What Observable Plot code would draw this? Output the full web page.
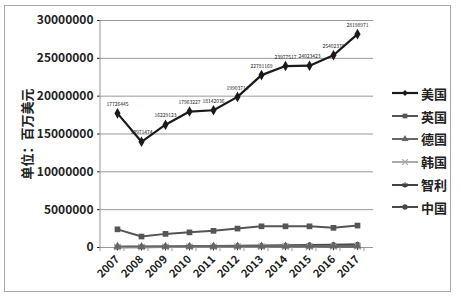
<!DOCTYPE html>
<html><head><meta charset="utf-8">
<script src="https://cdn.jsdelivr.net/npm/d3@7"></script>
<script src="https://cdn.jsdelivr.net/npm/@observablehq/plot@0.6"></script>
<style>
body{margin:0;background:#fff;}
#wrap{position:relative;width:461px;height:297px;font-family:"Noto Sans CJK SC",sans-serif;}
#frame{position:absolute;left:4px;top:5px;width:445px;height:285px;border:1px solid #aaa;}
#chart{position:absolute;left:0;top:0;}
#legend{position:absolute;left:391px;top:82px;}
.li{display:flex;align-items:center;height:22.8px;font-size:13px;font-weight:bold;color:#222;}
.li svg{margin-right:2px;}
</style></head><body>
<div id="wrap"><div id="frame"></div><div id="chart"></div><div id="legend"></div></div>
<script>
const years = ["2007","2008","2009","2010","2011","2012","2013","2014","2015","2016","2017"];
const seriesNames = ["美国","英国","德国","韩国","智利","中国"];
const usa     = [17726445,13971474,16229123,17963227,18142036,19903714,22781169,23977517,24023423,25402370,28198971];
const uk      = [2400000,1450000,1800000,2000000,2200000,2500000,2800000,2800000,2800000,2600000,2900000];
const germany = [130000,120000,130000,140000,150000,160000,170000,180000,190000,200000,210000];
const korea   = [60000,60000,70000,80000,90000,100000,110000,120000,130000,150000,170000];
const chile   = [40000,40000,50000,60000,70000,80000,80000,90000,90000,100000,110000];
const china   = [80000,110000,140000,170000,200000,230000,260000,300000,340000,380000,420000];
const labels  = ["17726445","13971474","16229123","17963227","18142036","19903714","22781169","23977517","24023423","25402370","28198971"];
const yTicks  = [0,5000000,10000000,15000000,20000000,25000000,30000000];

const values = [usa,uk,germany,korea,chile,china];
const styles = [
  {color:"#1a1a1a", symbol:"diamond", fill:true, r:3.2, w:2.2},
  {color:"#555", symbol:"square", fill:true, r:3.2, w:2},
  {color:"#666", symbol:"triangle", fill:true, r:3, w:2},
  {color:"#aaa", symbol:"times", fill:false, r:3, w:2},
  {color:"#444", symbol:"asterisk", fill:false, r:3.2, w:2},
  {color:"#4a4a4a", symbol:"circle", fill:true, r:2.6, w:2}
];
const data = [];
seriesNames.forEach((s,i)=>years.forEach((y,j)=>data.push({series:s, year:y, value:values[i][j], idx:i})));

const marks = [
  Plot.gridY(yTicks, {stroke:"#999", strokeOpacity:1, strokeWidth:1}),
  Plot.axisY({ticks: yTicks, tickFormat: d3.format("d"), tickSize:3, tickPadding:4, fontSize:12, fontWeight:"bold", fill:"#222",
    label:"单位：百万美元", labelAnchor:"center", labelOffset:78, labelArrow:false}),
  Plot.axisX({tickSize:0, tickRotate:-45, fontSize:11, fontWeight:"bold", tickPadding:10, label:null, fill:"#222"}),
  Plot.ruleY([0], {stroke:"#999"})
];
for (let i = seriesNames.length-1; i >= 0; i--) {
  const st = styles[i];
  const d = data.filter(r=>r.idx===i);
  marks.push(Plot.line(d, {x:"year", y:"value", stroke:st.color, strokeWidth:st.w}));
  marks.push(Plot.dot(d, {x:"year", y:"value", symbol:()=>st.symbol, r:st.r,
    fill: st.fill ? st.color : "none", stroke: st.color, strokeWidth: st.fill ? 0 : 1.3}));
}
marks.push(Plot.text(data.filter(r=>r.idx===0), {x:"year", y:"value", text:(d,i)=>labels[i], dy:-9, fontSize:5, fill:"#222"}));

const plot = Plot.plot({
  width:461, height:297,
  marginLeft:100, marginRight:88, marginTop:20, marginBottom:50,
  style:{fontFamily:"'Noto Sans CJK SC', sans-serif", color:"#222", background:"transparent"},
  x:{type:"band", domain:years, padding:0},
  y:{domain:[0,30000000]},
  symbol:{type:"identity"},
  marks
});
document.getElementById("chart").appendChild(plot);
d3.select(plot).selectAll("g[aria-label='y-axis label'] text").attr("font-size",13).attr("font-weight","bold").attr("fill","#222");

const xs = plot.scale("x"), ys = plot.scale("y");
const svg = d3.select(plot);
const x0 = xs.range[0], y0 = ys.range[0], yTop = ys.range[1];
svg.append("line").attr("x1",x0).attr("x2",x0).attr("y1",yTop).attr("y2",y0).attr("stroke","#999");
const bw = xs.bandwidth;
years.concat(["end"]).forEach((y,i)=>{
  const xp = x0 + i*bw;
  svg.append("line").attr("x1",xp).attr("x2",xp).attr("y1",y0).attr("y2",y0+4).attr("stroke","#999");
});

const leg = d3.select("#legend");
seriesNames.forEach((s,i)=>{
  const st = styles[i];
  const row = leg.append("div").attr("class","li");
  const sv = row.append("svg").attr("width",28).attr("height",10);
  sv.append("line").attr("x1",1).attr("x2",27).attr("y1",5).attr("y2",5).attr("stroke",st.color).attr("stroke-width",st.w);
  const sym = d3.symbol().type({diamond:d3.symbolDiamond2, square:d3.symbolSquare, triangle:d3.symbolTriangle, times:d3.symbolTimes, asterisk:d3.symbolAsterisk, circle:d3.symbolCircle}[st.symbol] || d3.symbolCircle).size(22);
  sv.append("path").attr("d",sym()).attr("transform","translate(14,5)")
    .attr("fill", st.fill?st.color:"none").attr("stroke", st.color).attr("stroke-width", st.fill?0:1.2);
  row.append("span").text(s);
});
</script>
</body></html>
